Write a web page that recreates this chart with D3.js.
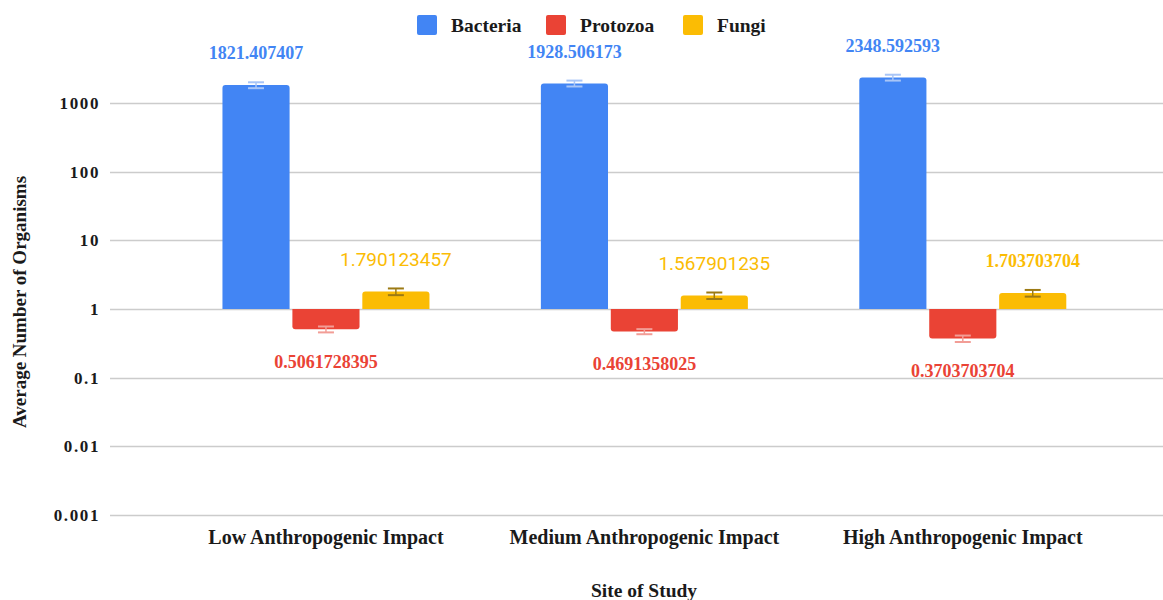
<!DOCTYPE html>
<html>
<head>
<meta charset="utf-8">
<script src="https://cdn.jsdelivr.net/npm/d3@7"></script>
<style>
  html, body { margin: 0; padding: 0; background: #fff; }
  svg { display: block; }
</style>
</head>
<body>
<svg id="chart" width="1163" height="600"></svg>
<script>
const categories = ["Low Anthropogenic Impact", "Medium Anthropogenic Impact", "High Anthropogenic Impact"];
const seriesNames = ["Bacteria", "Protozoa", "Fungi"];
const seriesColors = ["#4285f4", "#ea4335", "#fbbc04"];
const errorColors = ["#a8c5f7", "#f29d96", "#9c7a14"];
const bacteria = [1821.407407, 1928.506173, 2348.592593];
const protozoa = [0.5061728395, 0.4691358025, 0.3703703704];
const fungi = [1.790123457, 1.567901235, 1.703703704];
const bacteriaErr = [180, 190, 230];
const protozoaErr = [0.05, 0.04, 0.04];
const fungiErr = [0.2, 0.17, 0.19];
const bacteriaLabels = ["1821.407407", "1928.506173", "2348.592593"];
const protozoaLabels = ["0.5061728395", "0.4691358025", "0.3703703704"];
const fungiLabels = ["1.790123457", "1.567901235", "1.703703704"];
const fungiLabelSans = [true, true, false];
const yTicks = [0.001, 0.01, 0.1, 1, 10, 100, 1000];
const yTickLabels = ["0.001", "0.01", "0.1", "1", "10", "100", "1000"];

const svg = d3.select("#chart");
const serif = "'Liberation Serif', 'Times New Roman', serif";
const ink = "#1a1a1a";

const y = d3.scaleLog().domain([0.001, 10000]).range([515, 34.3]);
const x0 = d3.scaleBand().domain(categories).range([166.75, 1122]).paddingInner(0).paddingOuter(0);
const groupW = 207;
const x1 = d3.scaleBand().domain(seriesNames).range([0, groupW]).paddingInner(0.04);

// gridlines
svg.append("g").selectAll("line").data(yTicks).join("line")
  .attr("x1", 110).attr("x2", 1163)
  .attr("y1", d => Math.round(y(d)) + 0.5).attr("y2", d => Math.round(y(d)) + 0.5)
  .attr("stroke", "#cccccc").attr("stroke-width", 1.3);

// y axis labels
const yAxis = d3.axisLeft(y).tickValues(yTicks).tickSize(0).tickPadding(0)
  .tickFormat((d, i) => yTickLabels[i]);
const yg = svg.append("g").attr("transform", "translate(100,0)").call(yAxis);
yg.select(".domain").remove();
yg.selectAll("text").attr("font-family", serif).attr("font-weight", "bold")
  .attr("font-size", 17).attr("letter-spacing", 1.6).attr("fill", ink);

const series = [
  {name: "Bacteria", vals: bacteria, errs: bacteriaErr, labels: bacteriaLabels},
  {name: "Protozoa", vals: protozoa, errs: protozoaErr, labels: protozoaLabels},
  {name: "Fungi", vals: fungi, errs: fungiErr, labels: fungiLabels}
];

function barPath(x, w, y0, y1, r) {
  const up = y1 < y0;
  const h = Math.abs(y1 - y0);
  r = Math.min(r, h / 2, w / 2);
  if (up) {
    return `M${x},${y0} V${y1 + r} Q${x},${y1} ${x + r},${y1} H${x + w - r} Q${x + w},${y1} ${x + w},${y1 + r} V${y0} Z`;
  } else {
    return `M${x},${y0} V${y1 - r} Q${x},${y1} ${x + r},${y1} H${x + w - r} Q${x + w},${y1} ${x + w},${y1 - r} V${y0} Z`;
  }
}

const base = y(1);
series.forEach((s, si) => {
  const g = svg.append("g");
  categories.forEach((c, ci) => {
    const gx = x0(c) + (x0.bandwidth() - groupW) / 2;
    const bx = gx + x1(s.name);
    const bw = x1.bandwidth();
    const v = s.vals[ci];
    const yv = y(v);
    g.append("path").attr("d", barPath(bx, bw, base, yv, 3)).attr("fill", seriesColors[si]);
    const cx = bx + bw / 2;
    const yt = y(v + s.errs[ci]), yb = y(v - s.errs[ci]);
    const ec = errorColors[si];
    g.append("line").attr("x1", cx).attr("x2", cx).attr("y1", yt).attr("y2", yb).attr("stroke", ec).attr("stroke-width", 1.5);
    g.append("line").attr("x1", cx - 8).attr("x2", cx + 8).attr("y1", yt).attr("y2", yt).attr("stroke", ec).attr("stroke-width", 2);
    g.append("line").attr("x1", cx - 8).attr("x2", cx + 8).attr("y1", yb).attr("y2", yb).attr("stroke", ec).attr("stroke-width", 2);
    const above = v >= 1;
    const ly = above ? yv - 32 : yv + 32;
    const t = g.append("text").attr("x", cx).attr("y", ly).attr("dy", "0.35em")
      .attr("text-anchor", "middle").attr("fill", seriesColors[si]).text(s.labels[ci]);
    if (si === 2 && fungiLabelSans[ci]) {
      t.attr("font-family", "Roboto, sans-serif").attr("font-size", 19);
    } else {
      t.attr("font-family", serif).attr("font-weight", "bold").attr("font-size", 18);
    }
  });
});

// x category labels
svg.append("g").selectAll("text").data(categories).join("text")
  .attr("x", d => x0(d) + x0.bandwidth() / 2).attr("y", 537).attr("dy", "0.35em")
  .attr("text-anchor", "middle").attr("font-family", serif).attr("font-weight", "bold")
  .attr("font-size", 20).attr("fill", ink).text(d => d);

// axis titles
svg.append("text").attr("x", 644).attr("y", 590).attr("dy", "0.35em")
  .attr("text-anchor", "middle").attr("font-family", serif).attr("font-weight", "bold")
  .attr("font-size", 19.5).attr("fill", ink).text("Site of Study");
svg.append("text").attr("transform", "translate(19,302) rotate(-90)").attr("dy", "0.35em")
  .attr("text-anchor", "middle").attr("font-family", serif).attr("font-weight", "bold")
  .attr("font-size", 19).attr("fill", ink).text("Average Number of Organisms");

// legend
const legendX = [417, 546, 683];
const lg = svg.append("g");
seriesNames.forEach((n, i) => {
  lg.append("rect").attr("x", legendX[i]).attr("y", 15).attr("width", 20).attr("height", 20)
    .attr("rx", 2).attr("fill", seriesColors[i]);
  lg.append("text").attr("x", legendX[i] + 34).attr("y", 25).attr("dy", "0.35em")
    .attr("font-family", serif).attr("font-weight", "bold").attr("font-size", 19.5)
    .attr("fill", ink).text(n);
});
</script>
</body>
</html>
